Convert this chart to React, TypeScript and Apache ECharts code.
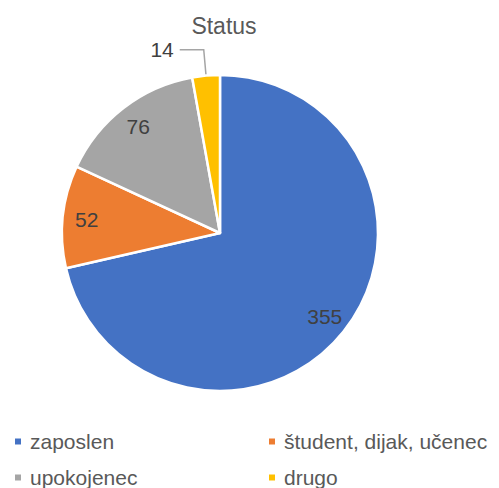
import React, { useEffect, useRef } from "react";
import * as echarts from "echarts";

const categories = ["zaposlen", "študent, dijak, učenec", "upokojenec", "drugo"];
const values = [355, 52, 76, 14];
const colors = ["#4472C4", "#ED7D31", "#A5A5A5", "#FFC000"];
const insideLabel = [true, true, true, false];
const legendLeftColumn = ["zaposlen", "upokojenec"];
const legendRightColumn = ["študent, dijak, učenec", "drugo"];

const FONT = "'Liberation Sans', Arial, sans-serif";

export default function App() {
  const ref = useRef<HTMLDivElement>(null);
  useEffect(() => {
    if (!ref.current) return;
    const chart = echarts.init(ref.current, null, { renderer: "svg" });
    const center = [220, 233];
    const R = 158;
    const colorOf = (n: string) => colors[categories.indexOf(n)];
    const legendBase = {
      orient: "vertical",
      top: 431,
      height: 80,
      padding: 0,
      icon: "rect",
      itemWidth: 8,
      itemHeight: 8,
      itemGap: 15,
      selectedMode: false,
      textStyle: {
        fontFamily: FONT,
        fontSize: 21,
        lineHeight: 21,
        color: "#595959",
        padding: [0, 0, 0, 3],
      },
    };
    chart.setOption({
      animation: false,
      textStyle: { fontFamily: FONT },
      title: {
        text: "Status",
        left: 219,
        textAlign: "center",
        top: 9,
        textStyle: { fontFamily: FONT, fontSize: 23, fontWeight: "normal", color: "#595959" },
      },
      legend: [
        {
          ...legendBase,
          left: 13,
          data: legendLeftColumn.map((n) => ({ name: n, itemStyle: { color: colorOf(n) } })),
        },
        {
          ...legendBase,
          left: 267,
          data: legendRightColumn.map((n) => ({ name: n, itemStyle: { color: colorOf(n) } })),
        },
      ],
      series: [
        {
          type: "pie",
          center,
          radius: R,
          startAngle: 90,
          clockwise: true,
          avoidLabelOverlap: false,
          itemStyle: { borderColor: "#ffffff", borderWidth: 2.5 },
          label: { show: false },
          labelLine: { show: false },
          emphasis: { disabled: true },
          data: categories.map((n, i) => ({
            name: n,
            value: values[i],
            itemStyle: { color: colors[i] },
            label: insideLabel[i]
              ? { show: false }
              : {
                  show: true,
                  position: "outside",
                  formatter: "{c}",
                  fontFamily: FONT,
                  fontSize: 21,
                  color: "#404040",
                  distanceToLabelLine: 6,
                },
            labelLine: insideLabel[i]
              ? { show: false }
              : { show: true, length: 26, length2: 24, lineStyle: { color: "#A5A5A5", width: 1.5 } },
          })),
        },
        {
          type: "pie",
          center,
          radius: [104, R],
          startAngle: 90,
          clockwise: true,
          silent: true,
          legendHoverLink: false,
          avoidLabelOverlap: false,
          itemStyle: { color: "transparent", borderWidth: 0 },
          labelLine: { show: false },
          label: {
            show: true,
            position: "inside",
            formatter: "{c}",
            fontFamily: FONT,
            fontSize: 21,
            color: "#404040",
          },
          emphasis: { disabled: true },
          data: categories.map((n, i) => ({
            name: n,
            value: values[i],
            label: { show: insideLabel[i] },
          })),
        },
      ],
    });
    return () => chart.dispose();
  }, []);
  return (
    <div
      ref={ref}
      style={{ position: "fixed", left: 0, top: 0, width: 499, height: 488, background: "#ffffff" }}
    />
  );
}
